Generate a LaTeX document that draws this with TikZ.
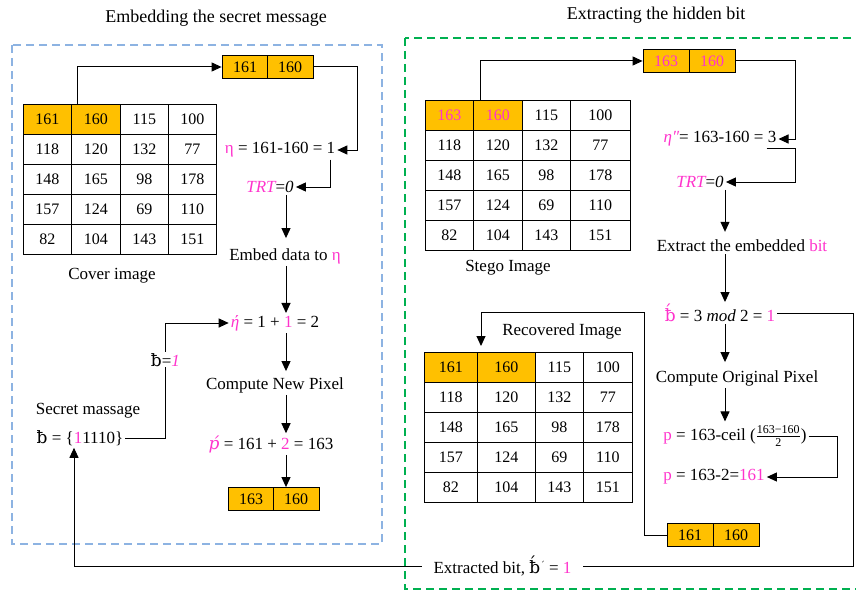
\documentclass[tikz,border=0pt]{standalone}
\usepackage{fontspec}
\setmainfont{Liberation Serif}
\newfontfamily\dvs{DejaVu Serif}
\usetikzlibrary{arrows.meta}

\definecolor{o1}{RGB}{255,192,0}
\definecolor{p1}{RGB}{255,51,204}
\definecolor{bl}{RGB}{141,179,226}
\definecolor{gr}{RGB}{0,176,80}

\tikzset{
  cell/.style={draw, line width=0.8pt, anchor=north west, minimum height=30pt, inner sep=0pt, font=\fontsize{16}{18}\selectfont},
  pix/.style={draw, line width=0.8pt, fill=o1, minimum width=46pt, minimum height=23pt, inner sep=0pt, font=\fontsize{16}{18}\selectfont},
  lbl/.style={font=\fontsize{17}{20}\selectfont, inner sep=2pt},
  arr/.style={-{Triangle[length=10pt,width=9pt]}, line width=1pt},
  frame/.style={line width=1.6pt, dash pattern=on 8pt off 5pt}
}

\begin{document}
\begin{tikzpicture}[x=1pt,y=-1pt]
\useasboundingbox (0,0) rectangle (856,591);

\node[lbl, font=\fontsize{18}{20}\selectfont] (ttl1) at (216,18) {Embedding the secret message};
\node[lbl, font=\fontsize{18}{20}\selectfont] (ttl2) at (656,15) {Extracting the hidden bit};

\draw[frame, bl] (12,45) rectangle (382,544);
\draw[frame, gr] (405,38) rectangle (870,589);

% embedding side
\fill[o1] (23,104) rectangle (120,134);
\foreach \r/\a/\b/\c/\d in {1/161/160/115/100, 2/118/120/132/77, 3/148/165/98/178, 4/157/124/69/110, 5/82/104/143/151} {
  \node[cell, minimum width=48pt] (cov-\r-1) at (23,{74+30*\r}) {\a};
  \node[cell, minimum width=49pt] (cov-\r-2) at (71,{74+30*\r}) {\b};
  \node[cell, minimum width=48pt] (cov-\r-3) at (120,{74+30*\r}) {\c};
  \node[cell, minimum width=48pt] (cov-\r-4) at (168,{74+30*\r}) {\d};
}
\node[lbl] (covl) at (112,276) {Cover image};

\node[pix] (pa1) at (245,67) {161};
\node[pix] (pa2) at (290,67) {160};

\coordinate (ax) at (286,0);
\node[lbl] (eta) at (280,150) {{\color{p1}η} = 161-160 = 1};
\node[lbl] (trt) at (270,187) {{\color{p1}\itshape TRT}=\textit{0}};
\node[lbl] (embed) at (285,256) {Embed data to {\color{p1}η}};
\node[lbl] (etap) at (275,323) {{\color{p1}\itshape ή} = 1 + {\color{p1}1} = 2};
\node[lbl] (newpx) at (275,385) {Compute New Pixel};
\node[lbl] (pp) at (271,444) {{\color{p1}\dvs\itshape ṕ} = 161 + {\color{p1}2} = 163};
\node[pix] (pb1) at (251,499) {163};
\node[pix] (pb2) at (296,499) {160};

\node[lbl] (sm) at (88,411) {Secret massage};
\node[lbl] (bset) at (80,438) {{\dvs ƀ} = \{{\color{p1}1}1110\}};
\coordinate (bin) at ([xshift=-6pt]bset.south);

\draw[arr] ([xshift=6pt]cov-1-2.north west) |- (pa1.west);
\draw[arr] (pa2.east) -| ([xshift=20pt]eta.east) -- (eta.east);
\draw[arr] ([xshift=-7pt]eta.south east) |- (trt.east);
\draw[arr] (trt.south -| ax) -- ([yshift=8pt]embed.north -| ax);
\draw[arr] (embed.south -| ax) -- (etap.north -| ax);
\draw[arr] (etap.south -| ax) -- ([yshift=4pt]newpx.north -| ax);
\draw[arr] (newpx.south -| ax) -- (pp.north -| ax);
\draw[arr] (pp.south -| ax) -- (pb1.north -| ax);
\draw[arr] (bset.east) -- ++(40,0) |- node[pos=0.34, lbl, fill=white, inner sep=1pt] (bl1) {{\dvs ƀ}=\textit{\color{p1}1}} (etap.west);

% extracting side
\node[pix, text=p1] (sa1) at (666,61) {163};
\node[pix, text=p1] (sa2) at (712,61) {160};

\fill[o1] (425,100) rectangle (522,130);
\foreach \r/\a/\b/\c/\d in {1/{\color{p1}163}/{\color{p1}160}/115/100, 2/118/120/132/77, 3/148/165/98/178, 4/157/124/69/110, 5/82/104/143/151} {
  \node[cell, minimum width=48pt] (stg-\r-1) at (425,{70+30*\r}) {\a};
  \node[cell, minimum width=49pt] (stg-\r-2) at (473,{70+30*\r}) {\b};
  \node[cell, minimum width=48pt] (stg-\r-3) at (522,{70+30*\r}) {\c};
  \node[cell, minimum width=60pt] (stg-\r-4) at (570,{70+30*\r}) {\d};
}
\node[lbl] (stgl) at (508,268) {Stego Image};

\coordinate (bx) at (725,0);
\node[lbl] (eta2) at (720,139) {{\color{p1}\itshape η″}= 163-160 = 3};
\node[lbl] (trt2) at (700,182) {{\color{p1}\itshape TRT}=\textit{0}};
\node[lbl] (ext) at (742,246) {Extract the embedded {\color{p1}bit}};
\node[lbl] (bmod) at (720,313) {{\color{p1}\dvs ƀ́} = 3 \textit{mod} 2 = {\color{p1}1}};
\node[lbl] (orig) at (737,378) {Compute Original Pixel};
\node[lbl] (pc) at (735,436) {{\color{p1}p} = 163-ceil (\ensuremath{\frac{\mbox{\fontsize{12}{12}\selectfont 163−160}}{\mbox{\fontsize{12}{12}\selectfont 2}}})};
\node[lbl] (pr) at (714,477) {{\color{p1}p} = 163-2={\color{p1}161}};

\node[pix] (rb1) at (690,535) {161};
\node[pix] (rb2) at (736,535) {160};

\fill[o1] (424,352) rectangle (535,382);
\foreach \r/\a/\b/\c/\d in {1/161/160/115/100, 2/118/120/132/77, 3/148/165/98/178, 4/157/124/69/110, 5/82/104/143/151} {
  \node[cell, minimum width=53pt] (rec-\r-1) at (424,{322+30*\r}) {\a};
  \node[cell, minimum width=58pt] (rec-\r-2) at (477,{322+30*\r}) {\b};
  \node[cell, minimum width=48pt] (rec-\r-3) at (535,{322+30*\r}) {\c};
  \node[cell, minimum width=49pt] (rec-\r-4) at (583,{322+30*\r}) {\d};
}
\node[lbl] (recl) at (562,331) {Recovered Image};
\coordinate (rbend) at (644,312);
\coordinate (rin) at ([xshift=57pt,yshift=6pt]rec-1-1.north west);
\coordinate (cr) at (853,566);

\draw[arr] ([xshift=7pt]stg-1-2.north west) |- (sa1.west);
\draw[arr] (sa2.east) -| ([xshift=17pt]eta2.east) -- (eta2.east);
\draw[arr] ([xshift=-12pt]eta2.south east) -- ([xshift=17pt]eta2.south east) |- (trt2.east);
\draw[arr] (trt2.south -| bx) -- ([yshift=6pt]ext.north -| bx);
\draw[arr] (ext.south -| bx) -- (bmod.north -| bx);
\draw[arr] (bmod.south -| bx) -- ([yshift=6pt]orig.north -| bx);
\draw[arr] (orig.south -| bx) -- ([yshift=2pt]pc.north -| bx);
\draw[arr] (pc.east) -- ++(29,0) |- (pr.east);
\draw[arr] (rb1.west) -| (rbend) -| (rin);
\draw[arr] (bmod.east) -| (cr) -- node[pos=0.45, lbl, fill=white, inner xsep=12pt] (xbit) {Extracted bit, {\dvs ƀ́}\raisebox{5pt}{\dvs\small ´} = {\color{p1}1}} (bin |- cr) -- (bin);
\end{tikzpicture}
\end{document}
